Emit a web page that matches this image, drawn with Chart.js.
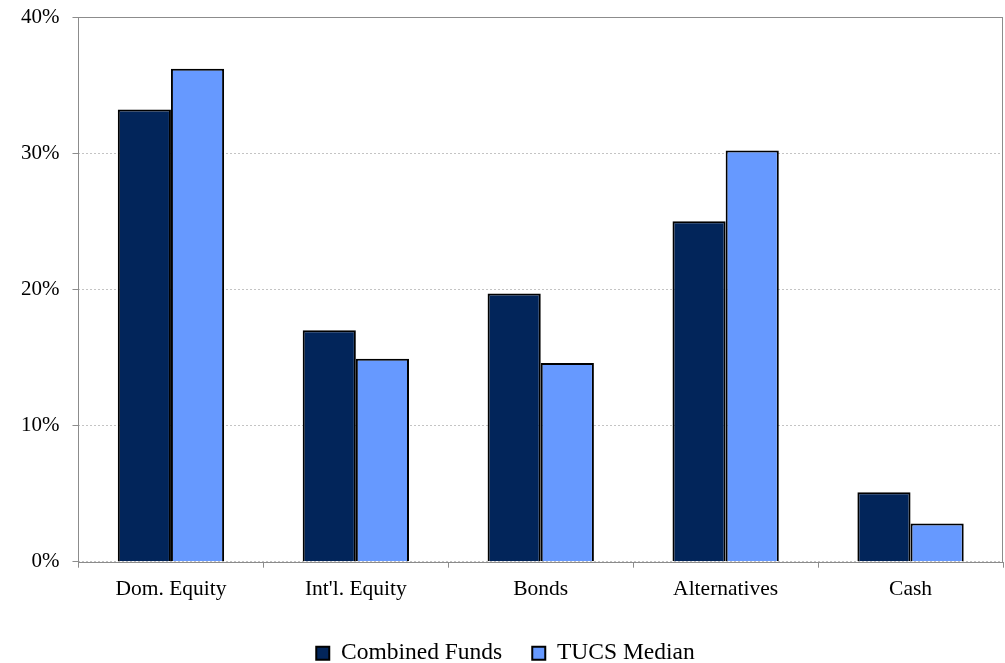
<!DOCTYPE html>
<html>
<head>
<meta charset="utf-8">
<script src="https://cdn.jsdelivr.net/npm/chart.js@4/dist/chart.umd.min.js"></script>
<style>
  html, body { margin: 0; padding: 0; background: #fff; }
  #wrap { width: 1005px; height: 663px; position: relative; }
</style>
</head>
<body>
<div id="wrap"><canvas id="chart"></canvas></div>
<script>
const categories = ["Dom. Equity", "Int'l. Equity", "Bonds", "Alternatives", "Cash"];
const combinedFunds = [33.2, 17.0, 19.7, 25.0, 5.1];
const tucsMedian = [36.2, 14.9, 14.6, 30.2, 2.8];
const yTicks = [0, 10, 20, 30, 40];

// frame around the plot area, solid gray
const frame = {
  id: "frame",
  afterDraw(chart) {
    const { ctx, chartArea: a } = chart;
    ctx.save();
    ctx.strokeStyle = "#8c8c8c";
    ctx.lineWidth = 1;
    ctx.strokeRect(Math.round(a.left) + 0.5, Math.round(a.top) + 0.5,
      Math.round(a.right - a.left) - 1, Math.round(a.bottom - a.top));
    ctx.restore();
  },
};

const font = "'Liberation Serif', 'Times New Roman', serif";

new Chart(document.getElementById("chart"), {
  type: "bar",
  data: {
    labels: categories,
    datasets: [
      { label: "Combined Funds", data: combinedFunds, backgroundColor: "#02255a", borderColor: "#000", borderWidth: 2 },
      { label: "TUCS Median", data: tucsMedian, backgroundColor: "#6699ff", borderColor: "#000", borderWidth: 2 },
    ],
  },
  options: {
    responsive: true,
    maintainAspectRatio: false,
    animation: false,
    devicePixelRatio: 1,
    layout: { padding: { left: 8, top: 17, right: 2, bottom: -12 } },
    datasets: { bar: { categoryPercentage: 0.575, barPercentage: 1 } },
    scales: {
      x: {
        grid: { drawOnChartArea: false, drawTicks: true, tickLength: 6, color: "#8c8c8c", offset: true },
        border: { display: false },
        ticks: { color: "#000", font: { family: font, size: 21.5 }, padding: 9 },
      },
      y: {
        min: 0,
        max: 40,
        afterBuildTicks: (axis) => { axis.ticks = yTicks.map((v) => ({ value: v })); },
        afterFit: (axis) => { axis.paddingTop = 0; axis.paddingBottom = 0; },
        grid: { color: "#c4c4c4", tickColor: "#8c8c8c", tickLength: 6, tickBorderDash: [] },
        border: { display: false, dash: [2, 2] },
        ticks: { color: "#000", font: { family: font, size: 21 }, padding: 13, callback: (v) => v + "%" },
      },
    },
    plugins: {
      legend: {
        position: "bottom",
        labels: {
          color: "#000",
          font: { family: font, size: 23.5 },
          boxWidth: 13,
          boxHeight: 13,
          padding: 30,
          useBorderRadius: false,
        },
      },
      tooltip: { enabled: false },
    },
  },
  plugins: [frame],
});
</script>
</body>
</html>
